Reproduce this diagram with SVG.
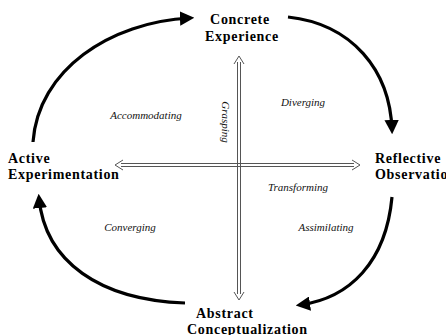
<svg xmlns="http://www.w3.org/2000/svg" width="446" height="335" viewBox="0 0 446 335">
<defs>
<marker id="ah" viewBox="0 0 10 10" refX="7" refY="5" markerWidth="4.5" markerHeight="4.5" orient="auto" markerUnits="strokeWidth">
<path d="M0,0 L10,5 L0,10 Z" fill="#000"/>
</marker>
</defs>
<style>
.n{font-family:"Liberation Serif","Times New Roman",serif;font-weight:bold;font-size:14px;letter-spacing:0.7px;fill:#000}
.s{font-family:"Liberation Serif","Times New Roman",serif;font-style:italic;font-size:11px;fill:#111}
.arc{fill:none;stroke:#000;stroke-width:3.2;marker-end:url(#ah)}
.dl{stroke:#555;stroke-width:1;fill:none}
.oh{stroke:#555;stroke-width:1;fill:none}
</style>
<rect width="446" height="335" fill="#fff"/>
<g id="connectors">
<path class="arc" d="M33,142 C38,70 110,22 190,18"/>
<path class="arc" d="M288,17 C352,24 390,70 392,130"/>
<path class="arc" d="M392,197 C386,262 350,298 300,305"/>
<path class="arc" d="M185,303 C100,300 45,262 39,198"/>
<g id="vertical-axis">
<line class="dl" x1="237.5" y1="62" x2="237.5" y2="294"/>
<line class="dl" x1="240.5" y1="62" x2="240.5" y2="294"/>
<path class="oh" d="M234,64 L239,56 L244,64"/>
<path class="oh" d="M234,292 L239,300 L244,292"/>
</g>
<g id="horizontal-axis">
<line class="dl" x1="121" y1="163.5" x2="354" y2="163.5"/>
<line class="dl" x1="121" y1="166.5" x2="354" y2="166.5"/>
<path class="oh" d="M123,160 L115,165 L123,170"/>
<path class="oh" d="M352,160 L360,165 L352,170"/>
</g>
</g>
<g id="concrete"><text class="n" x="240" y="24" text-anchor="middle">Concrete</text><text class="n" x="242" y="41" text-anchor="middle">Experience</text></g>
<g id="active"><text class="n" x="8" y="163">Active</text><text class="n" x="8" y="179">Experimentation</text></g>
<g id="reflective"><text class="n" x="375" y="163">Reflective</text><text class="n" x="375" y="179">Observation</text></g>
<g id="abstract"><text class="n" x="196" y="318">Abstract</text><text class="n" x="187" y="334">Conceptualization</text></g>
<g id="accommodating"><text class="s" x="146" y="119" text-anchor="middle">Accommodating</text></g>
<g id="diverging"><text class="s" x="303" y="106" text-anchor="middle">Diverging</text></g>
<g id="converging"><text class="s" x="130" y="231" text-anchor="middle">Converging</text></g>
<g id="assimilating"><text class="s" x="326" y="231" text-anchor="middle">Assimilating</text></g>
<g id="transforming"><text class="s" x="298" y="191" text-anchor="middle">Transforming</text></g>
<g id="grasping"><text class="s" x="0" y="0" text-anchor="middle" transform="translate(222,122) rotate(90)">Grasping</text></g>
</svg>
